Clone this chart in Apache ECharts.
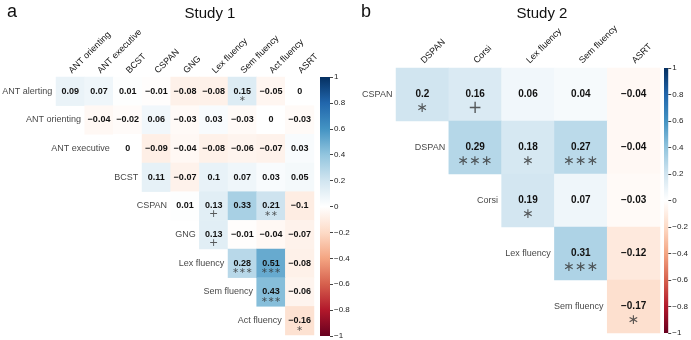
<!DOCTYPE html>
<html>
<head>
<meta charset="utf-8">
<style>
  html, body { margin: 0; padding: 0; background: #fff; }
  #main { width: 691px; height: 340px; }
</style>
</head>
<body>
<div id="main"></div>
<script src="https://cdn.jsdelivr.net/npm/echarts@6/dist/echarts.min.js"></script>
<script>
// study 1: rows / columns of the upper triangle
const rows1 = ['ANT alerting', 'ANT orienting', 'ANT executive', 'BCST', 'CSPAN', 'GNG', 'Lex fluency', 'Sem fluency', 'Act fluency']
const cols1 = ['ANT orienting', 'ANT executive', 'BCST', 'CSPAN', 'GNG', 'Lex fluency', 'Sem fluency', 'Act fluency', 'ASRT']
// row i starts at column i
const vals1 = [
  [0.09, 0.07, 0.01, -0.01, -0.08, -0.08, 0.15, -0.05, 0],
  [-0.04, -0.02, 0.06, -0.03, 0.03, -0.03, 0, -0.03],
  [0, -0.09, -0.04, -0.08, -0.06, -0.07, 0.03],
  [0.11, -0.07, 0.1, 0.07, 0.03, 0.05],
  [0.01, 0.13, 0.33, 0.21, -0.1],
  [0.13, -0.01, -0.04, -0.07],
  [0.28, 0.51, -0.08],
  [0.43, -0.06],
  [-0.16]
]
const sig1 = [
  ['', '', '', '', '', '', '*', '', ''],
  ['', '', '', '', '', '', '', ''],
  ['', '', '', '', '', '', ''],
  ['', '', '', '', '', ''],
  ['', '+', '', '**', ''],
  ['+', '', '', ''],
  ['***', '***', ''],
  ['***', ''],
  ['*']
]

// study 2
const rows2 = ['CSPAN', 'DSPAN', 'Corsi', 'Lex fluency', 'Sem fluency']
const cols2 = ['DSPAN', 'Corsi', 'Lex fluency', 'Sem fluency', 'ASRT']
const vals2 = [
  [0.2, 0.16, 0.06, 0.04, -0.04],
  [0.29, 0.18, 0.27, -0.04],
  [0.19, 0.07, -0.03],
  [0.31, -0.12],
  [-0.17]
]
const sig2 = [
  ['*', '+', '', '', ''],
  ['***', '*', '***', ''],
  ['*', '', ''],
  ['***', ''],
  ['*']
]

// colour bar ticks
const barTicks = [-1, -0.8, -0.6, -0.4, -0.2, 0, 0.2, 0.4, 0.6, 0.8, 1]

const rdbu = ['#67001F', '#B2182B', '#D6604D', '#F4A582', '#FDDBC7', '#FFFFFF', '#D1E5F0', '#92C5DE', '#4393C3', '#2166AC', '#053061']
const font = 'Liberation Sans'

function cells (vals) {
  const out = []
  vals.forEach((row, i) => row.forEach((v, k) => out.push([i + k, i, v])))
  return out
}
function stars (sig, plusSize) {
  const out = []
  sig.forEach((row, i) => row.forEach((s, k) => {
    if (!s) return
    const item = { value: [i + k, i], name: s.replace(/\*/g, '\u2217') }
    if (s === '+') item.label = { fontSize: plusSize }
    out.push(item)
  }))
  return out
}
function rowLabels (rows) {
  return rows.map((r, i) => ({ value: [i, i], name: r }))
}
function fmtNum (v) {
  return String(v).replace('-', '\u2212')
}
function grad (stops) {
  return new echarts.graphic.LinearGradient(0, 0, 0, 1,
    stops.map((c, k) => ({ offset: k / (stops.length - 1), color: c })))
}
const posGrad = grad(rdbu.slice(5).reverse())
const negGrad = grad(rdbu.slice(0, 6).reverse())

function heatAxisX (idx, data, margin) {
  return {
    gridIndex: idx,
    type: 'category',
    data: data,
    position: 'top',
    axisLine: { show: false },
    axisTick: { show: false },
    splitLine: { show: false },
    axisLabel: { rotate: -45, margin: margin, interval: 0, fontSize: 9, color: '#111', fontFamily: font }
  }
}
function barAxisY (idx) {
  return {
    gridIndex: idx,
    type: 'value',
    min: -1,
    max: 1,
    interval: 0.2,
    position: 'right',
    axisLine: { show: false },
    splitLine: { show: false },
    axisTick: { show: true, length: 3, lineStyle: { color: '#444' } },
    axisLabel: {
      fontSize: 8,
      margin: 4,
      color: '#222',
      fontFamily: font,
      formatter: function (v) {
        const t = barTicks.find((b) => Math.abs(b - v) < 1e-6)
        return fmtNum(t === undefined ? v : t)
      }
    }
  }
}
function heatSeries (x, vals, size) {
  return {
    type: 'heatmap',
    xAxisIndex: x,
    yAxisIndex: x,
    data: cells(vals),
    label: {
      show: true,
      fontSize: size,
      fontWeight: 'bold',
      color: '#111',
      fontFamily: font,
      formatter: (p) => fmtNum(p.value[2])
    },
    emphasis: { disabled: true }
  }
}
function starSeries (x, sig, size, plusSize, dy) {
  return {
    type: 'scatter',
    xAxisIndex: x,
    yAxisIndex: x,
    symbolSize: 0,
    silent: true,
    data: stars(sig, plusSize),
    label: {
      show: true,
      position: 'inside',
      offset: [0, dy],
      formatter: '{b}',
      fontSize: size,
      color: '#333',
      fontFamily: 'DejaVu Sans'
    }
  }
}
function labelSeries (x, rows, dist) {
  return {
    type: 'scatter',
    xAxisIndex: x,
    yAxisIndex: x,
    symbolSize: 0,
    silent: true,
    data: rowLabels(rows),
    label: {
      show: true,
      position: 'left',
      distance: dist,
      formatter: '{b}',
      fontSize: 9,
      color: '#111',
      fontFamily: font
    }
  }
}
function barSeries (x, v, fill) {
  return {
    type: 'bar',
    xAxisIndex: x,
    yAxisIndex: x,
    barWidth: '100%',
    barGap: '-100%',
    silent: true,
    data: [v],
    itemStyle: { color: fill }
  }
}

const chart = echarts.init(document.getElementById('main'))
chart.setOption({
  animation: false,
  backgroundColor: '#fff',
  title: [
    { text: 'a', left: 2, top: -2, textStyle: { fontSize: 18, fontWeight: 'normal', color: '#111', fontFamily: font } },
    { text: 'Study 1', left: 205, top: 1, textAlign: 'center', textStyle: { fontSize: 15, fontWeight: 'normal', color: '#111', fontFamily: font } },
    { text: 'b', left: 356, top: -2, textStyle: { fontSize: 18, fontWeight: 'normal', color: '#111', fontFamily: font } },
    { text: 'Study 2', left: 537, top: 1, textAlign: 'center', textStyle: { fontSize: 15, fontWeight: 'normal', color: '#111', fontFamily: font } }
  ],
  grid: [
    { left: 56, top: 77, width: 258, height: 258 },
    { left: 320, top: 77, width: 10, height: 259 },
    { left: 396, top: 68, width: 264, height: 265 },
    { left: 664, top: 68, width: 8, height: 265 }
  ],
  xAxis: [
    heatAxisX(0, cols1, 5),
    { gridIndex: 1, type: 'category', data: ['bar'], show: false },
    heatAxisX(2, cols2, 6),
    { gridIndex: 3, type: 'category', data: ['bar'], show: false }
  ],
  yAxis: [
    { gridIndex: 0, type: 'category', data: rows1, inverse: true, show: false },
    barAxisY(1),
    { gridIndex: 2, type: 'category', data: rows2, inverse: true, show: false },
    barAxisY(3)
  ],
  visualMap: [
    { type: 'continuous', show: false, min: -1, max: 1, seriesIndex: [0, 5], inRange: { color: rdbu } }
  ],
  series: [
    heatSeries(0, vals1, 9),
    starSeries(0, sig1, 8, 11, 8),
    labelSeries(0, rows1, 18),
    barSeries(1, 1, posGrad),
    barSeries(1, -1, negGrad),
    heatSeries(2, vals2, 10),
    starSeries(2, sig2, 14, 17, 14),
    labelSeries(2, rows2, 30),
    barSeries(3, 1, posGrad),
    barSeries(3, -1, negGrad)
  ]
})
</script>
</body>
</html>
